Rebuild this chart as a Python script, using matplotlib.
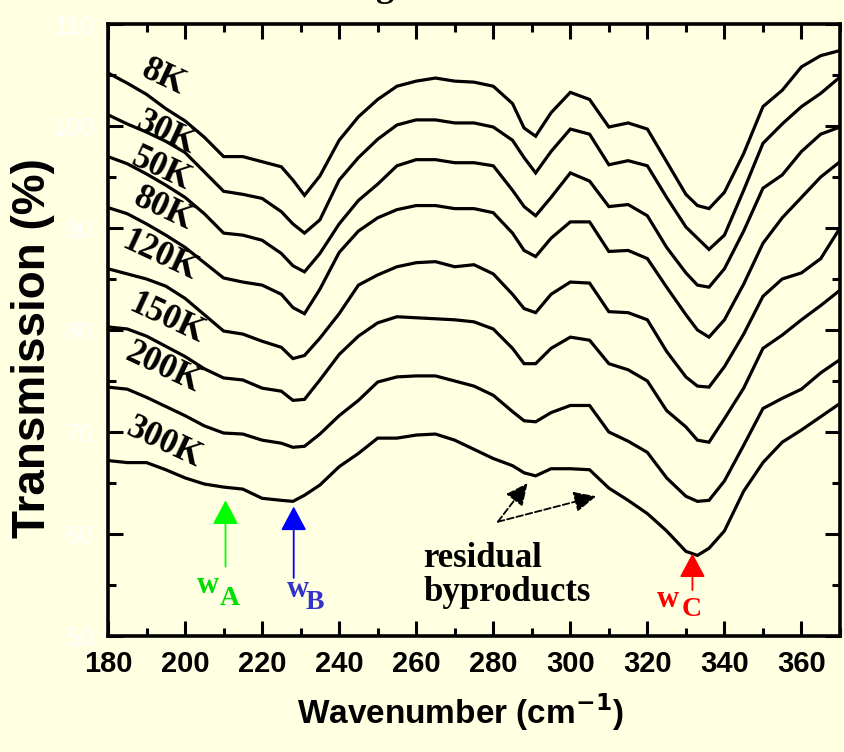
import matplotlib
matplotlib.use("Agg")
import matplotlib.pyplot as plt
from matplotlib.ticker import MultipleLocator

# wavenumber grid (cm^-1)
wavenumber = [180, 185, 190, 195, 200, 205, 210, 215, 220, 225, 228, 231, 235, 240,
              245, 250, 255, 260, 265, 270, 275, 280, 285, 288, 291, 295, 300, 305,
              310, 315, 320, 325, 330, 333, 336, 340, 345, 350, 355, 360, 365, 370]

# transmission (%) of each temperature, offset as in the figure
t_8k = [105.2, 104.2, 103.1, 101.7, 100.5, 98.9, 97.0, 97.0, 96.5, 96.0, 94.7, 93.2, 95.1, 98.6,
        100.9, 102.6, 103.9, 104.4, 104.7, 104.4, 104.3, 103.9, 102.2, 99.8, 99.0, 101.3, 103.3, 102.6,
        99.9, 100.3, 99.7, 96.5, 93.3, 92.2, 91.9, 93.5, 97.3, 101.9, 103.5, 105.8, 106.9, 107.4]
t_30k = [101.1, 100.2, 99.4, 98.5, 97.4, 95.5, 93.6, 93.3, 92.9, 91.6, 90.4, 89.5, 90.8, 94.7,
         96.9, 98.7, 100.1, 100.6, 100.6, 100.3, 100.3, 99.9, 98.6, 96.9, 95.4, 97.5, 99.7, 99.2,
         96.2, 96.6, 96.1, 93.0, 90.1, 89.0, 87.9, 89.3, 93.7, 98.3, 100.2, 101.9, 103.2, 104.8]
t_50k = [97.0, 96.3, 95.3, 94.2, 93.0, 91.4, 89.5, 89.3, 88.8, 87.5, 86.3, 85.7, 87.5, 90.4,
         92.7, 94.3, 96.1, 96.7, 96.7, 96.4, 96.4, 96.1, 93.7, 92.1, 91.2, 93.0, 95.4, 94.6,
         92.1, 92.3, 91.2, 88.1, 85.6, 84.4, 84.2, 86.0, 89.7, 93.9, 95.2, 97.5, 99.2, 99.9]
t_80k = [92.0, 91.4, 90.4, 89.3, 88.1, 86.6, 85.1, 84.7, 84.4, 83.5, 82.2, 81.6, 84.0, 87.6,
         89.7, 91.0, 91.8, 92.2, 92.2, 91.9, 91.9, 91.5, 89.5, 87.8, 87.2, 89.0, 90.6, 90.6,
         87.7, 87.8, 87.0, 84.2, 81.5, 80.0, 79.3, 81.0, 84.5, 88.5, 91.0, 93.0, 95.0, 96.5]
t_120k = [86.0, 85.5, 85.0, 84.3, 83.1, 81.5, 79.9, 79.6, 78.9, 78.3, 77.2, 77.5, 79.2, 81.6,
          84.4, 85.4, 86.2, 86.6, 86.7, 86.2, 86.4, 85.5, 83.5, 82.1, 81.7, 83.5, 84.7, 84.6,
          81.8, 81.7, 81.0, 77.9, 75.4, 74.5, 74.4, 76.4, 79.6, 83.3, 85.0, 85.6, 87.0, 90.0]
t_150k = [80.3, 80.1, 79.4, 78.4, 77.4, 76.2, 75.3, 75.1, 74.3, 74.0, 73.1, 73.2, 75.1, 77.6,
          79.4, 80.7, 81.3, 81.2, 81.1, 81.0, 80.8, 80.1, 78.2, 76.7, 76.7, 78.2, 79.3, 79.0,
          76.7, 76.1, 75.0, 72.1, 70.5, 69.2, 69.0, 71.3, 74.3, 78.2, 79.5, 81.0, 82.4, 83.9]
t_200k = [74.4, 74.2, 73.4, 72.5, 71.6, 70.6, 69.9, 69.8, 69.2, 68.9, 68.5, 68.6, 69.8, 71.6,
          73.1, 74.9, 75.4, 75.5, 75.5, 75.0, 74.5, 73.6, 72.0, 71.1, 71.0, 71.9, 72.6, 72.6,
          70.0, 69.1, 68.0, 65.5, 63.7, 63.2, 63.3, 65.2, 68.7, 72.3, 73.3, 74.2, 75.8, 77.1]
t_300k = [67.2, 67.0, 67.0, 66.3, 65.5, 64.9, 64.6, 64.4, 63.5, 63.3, 63.2, 63.8, 64.8, 66.6,
          67.9, 69.4, 69.4, 69.7, 69.8, 69.2, 68.3, 67.4, 66.7, 66.0, 65.7, 66.4, 66.4, 66.3,
          64.5, 63.3, 62.0, 60.3, 58.3, 57.9, 58.6, 60.3, 64.2, 67.0, 69.0, 70.2, 71.5, 72.8]

temps = ['8K', '30K', '50K', '80K', '120K', '150K', '200K', '300K']
label_x = [194.5, 195.2, 193.8, 194.4, 193.3, 195.2, 194.4, 194.6]
label_y = [104.7, 99.3, 95.7, 91.8, 87.3, 81.1, 76.3, 68.9]

BG = '#FFFFE1'
SERIF = ['Liberation Serif', 'DejaVu Serif']
SANS = ['Liberation Sans', 'DejaVu Sans']

fig = plt.figure(figsize=(8.45, 7.52), dpi=100, facecolor=BG)
ax = fig.add_axes([108 / 845, 1 - 636 / 752, 732 / 845, 612 / 752])
ax.set_facecolor(BG)

for t in [t_8k, t_30k, t_50k, t_80k, t_120k, t_150k, t_200k, t_300k]:
    ax.plot(wavenumber, t, color='black', lw=2.3, solid_joinstyle='miter')

for name, lx, ly in zip(temps, label_x, label_y):
    ax.text(lx, ly, name, rotation=-25, rotation_mode='anchor', ha='center', va='center',
            family=SERIF, fontweight='bold', fontsize=25)

ax.set_xlim(180, 370)
ax.set_ylim(50, 110)
ax.xaxis.set_major_locator(MultipleLocator(20))
ax.xaxis.set_minor_locator(MultipleLocator(10))
ax.yaxis.set_major_locator(MultipleLocator(10))
ax.yaxis.set_minor_locator(MultipleLocator(5))
ax.tick_params(which='both', direction='in', top=True, right=True, width=2.2)
ax.tick_params(which='major', length=11)
ax.tick_params(which='minor', length=6)
ax.tick_params(axis='x', pad=10, labelsize=21)
ax.tick_params(axis='y', pad=10, labelsize=18, labelcolor='white')
for lab in ax.get_xticklabels():
    lab.set_family(SANS)
    lab.set_fontweight('bold')
for lab in ax.get_yticklabels():
    lab.set_family(SANS)
for s in ax.spines.values():
    s.set_linewidth(2.6)

fig.text(33 / 845, 1 - 348 / 752, 'Transmission (%)', rotation=90, ha='center', va='center',
         family=SANS, fontweight='bold', fontsize=33)
fig.text(460 / 845, 1 - 712 / 752, r'Wavenumber (cm$^{\mathbf{-1}}$)', ha='center', va='center',
         family=SANS, fontweight='bold', fontsize=24)
# top edge of a cropped title
fig.text(385 / 845, 1 + 4 / 752, 'g', ha='center', va='baseline', family=SERIF,
         fontweight='bold', fontsize=26)

# band markers
marks = [(210.5, 63.3, 56.8, '#00FF00', '#00DD00', 'A', 203.1, 54.2, 209.1, 53.0),
         (228.2, 62.7, 55.7, '#0000FF', '#3333CC', 'B', 226.3, 53.8, 231.2, 52.6),
         (331.7, 58.1, 54.5, '#FF0000', '#FF0000', 'C', 322.5, 52.8, 328.8, 52.0)]
for x, ytip, ytail, c, tc, sub, wx, wy, sx, sy in marks:
    ax.annotate('', xy=(x, ytip), xytext=(x, ytail),
                arrowprops=dict(arrowstyle='-|>,head_length=0.75,head_width=0.4',
                                mutation_scale=20, color=c, lw=1.3, shrinkA=0, shrinkB=0))
    ax.text(wx, wy, 'w', color=tc, family=SERIF, fontweight='bold', fontsize=22)
    ax.text(sx, sy, sub, color=tc, family=SERIF, fontweight='bold', fontsize=20)

# residual byproducts
for tip in [(288.9, 65.0), (306.7, 63.7)]:
    ax.annotate('', xy=tip, xytext=(281.2, 61.2),
                arrowprops=dict(arrowstyle='-|>,head_length=0.75,head_width=0.35',
                                mutation_scale=18, color='black', lw=1.3, ls='--',
                                shrinkA=0, shrinkB=0))
ax.text(261.8, 56.8, 'residual', family=SERIF, fontweight='bold', fontsize=25)
ax.text(261.8, 53.4, 'byproducts', family=SERIF, fontweight='bold', fontsize=25)

fig.savefig('out.png', dpi=100, facecolor=BG)
